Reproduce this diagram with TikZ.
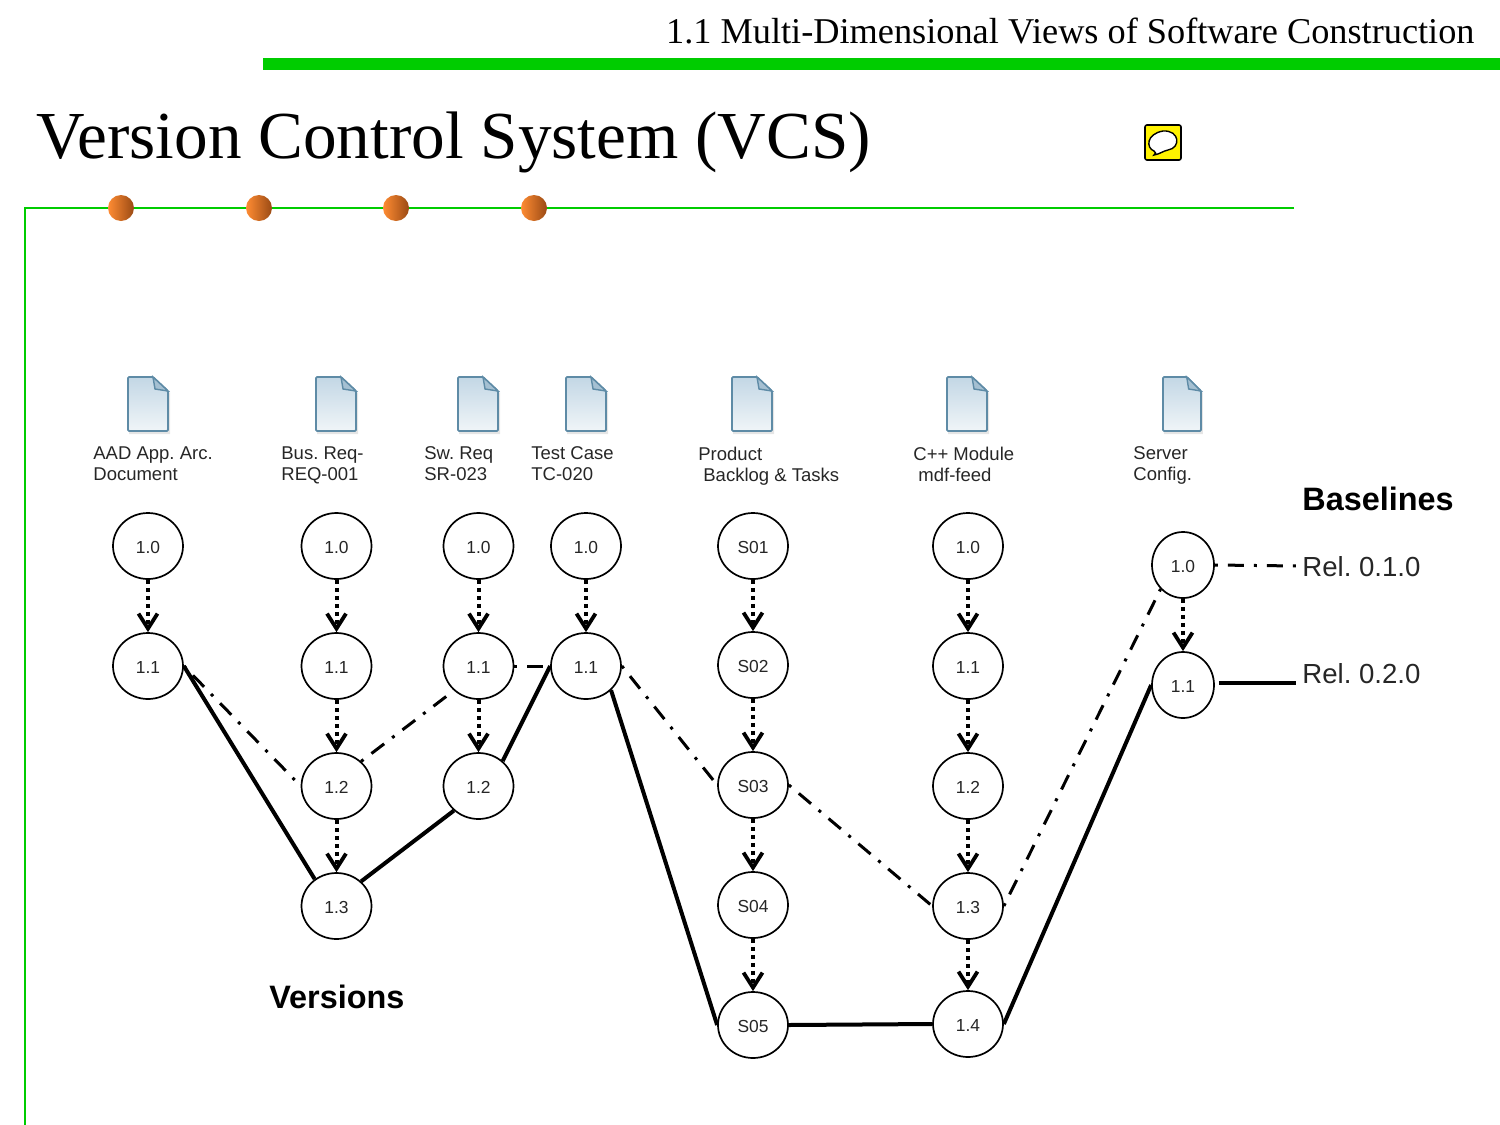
\documentclass[tikz,border=0pt]{standalone}
\usepackage{fontspec}
\setmainfont{Liberation Serif}
\newfontfamily\arialfont{Liberation Sans}
\usetikzlibrary{arrows.meta,shapes.geometric}
\definecolor{vcsgreen}{HTML}{00CC00}
\definecolor{docedge}{HTML}{5E8BA6}
\definecolor{doctop}{HTML}{C3D7E5}
\definecolor{docbot}{HTML}{F0F5F8}
\definecolor{orgL}{HTML}{FF8C33}
\definecolor{orgR}{HTML}{9A4A14}
\tikzset{
  vernode/.style={ellipse,draw=black,line width=.85pt,fill=white,minimum width=35pt,minimum height=33pt,inner sep=0pt,text height=7.2pt,text depth=0pt,font=\arialfont\fontsize{8.7}{10}\selectfont,text=black!85},
  relnode/.style={vernode,minimum width=31pt,minimum height=33pt},
  doclabel/.style={anchor=north west,inner sep=0pt,align=left,font=\frenchspacing\arialfont\fontsize{9.25}{10.5}\selectfont,text=black!85},
  headtext/.style={font=\arialfont\bfseries\fontsize{16.2}{18}\selectfont,inner sep=0pt,anchor=base west},
  reltext/.style={font=\frenchspacing\arialfont\fontsize{13.8}{16}\selectfont,inner sep=2pt,text=black!85},
  evolve/.style={line width=2pt,dash pattern=on 2pt off 2pt,-{Straight Barb[length=7.5pt,width=9.5pt,line width=1.9pt]}},
  baseA/.style={line width=1.5pt,dash pattern=on 1.5pt off 5pt on 8pt off 5pt},
  baseB/.style={line width=2pt},
  bullet/.style={circle,minimum size=13pt,inner sep=0pt,left color=orgL,right color=orgR},
  pics/docicon/.style={code={
    \fill[black!10] (-19,-25) -- (7,-25) -- (22,-11) -- (22,30) -- (-19,30) -- cycle;
    \draw[docedge,line width=.9pt,top color=doctop,bottom color=docbot,rounded corners=.6pt] (-20,-27) -- (5,-27) -- (20,-13) -- (20,27) -- (-20,27) -- cycle;
    \draw[docedge,line width=.7pt,fill=doctop!70!docedge] (5,-27) -- (7,-15) -- (20,-13) -- cycle;
  }}
}
\begin{document}
\begin{tikzpicture}[x=.5pt,y=-.5pt]
\useasboundingbox (0,0) rectangle (1500,1125);
% page furniture
\fill[vcsgreen] (263,58) rectangle (1500,70);
\draw[vcsgreen,line width=1pt] (1294,208) -- (25,208) -- (25,1125);
\node[anchor=base east,inner sep=0pt,font=\fontsize{18.15}{20}\selectfont] (hdr) at (1475,43) {1.1 Multi-Dimensional Views of Software Construction};
\node[anchor=base west,inner sep=0pt,font=\fontsize{33.6}{40}\selectfont] (title) at (36,158) {Version Control System (VCS)};
\foreach \i/\x in {1/121,2/259,3/396,4/534} \node[bullet] (dot\i) at (\x,208) {};
% note icon
\draw[black,line width=.8pt,fill=yellow,rounded corners=1pt] (1145,125) rectangle (1181,160);
\draw[black,line width=.7pt,fill=white] (1154,151) .. controls (1146,148) and (1146,134) .. (1163,131) .. controls (1180,130) and (1181,148) .. (1168,150) .. controls (1163,151) and (1160,154) .. (1154,155) .. controls (1156,154) and (1156,152) .. (1154,151) -- cycle;
% documents
\foreach \x in {148,336,478,586,752,967} \pic at (\x,404) {docicon};
\pic[xscale=.95] at (1182,404) {docicon};
% labels
\node[doclabel] (lab1) at (93,446.5) {AAD App. Arc.\\Document};
\node[doclabel] (lab2) at (281,446.5) {Bus. Req-\\REQ-001};
\node[doclabel] (lab3) at (424,446.5) {Sw. Req\\SR-023};
\node[doclabel] (lab4) at (531,446.5) {Test Case\\TC-020};
\node[doclabel] (lab5) at (698,446.5) {Product\\\hspace*{2.5pt}Backlog \& Tasks};
\node[doclabel] (lab6) at (913,446.5) {C++ Module\\\hspace*{2.5pt}mdf-feed};
\node[doclabel] (lab7) at (1133,446.5) {Server\\Config.};
% version nodes
\node[vernode] (a0) at (148,546) {1.0};
\node[vernode] (a1) at (148,666) {1.1};
\node[vernode] (b0) at (336.5,546) {1.0};
\node[vernode] (b1) at (336.5,666) {1.1};
\node[vernode] (b2) at (336.5,786) {1.2};
\node[vernode] (b3) at (336.5,906) {1.3};
\node[vernode] (c0) at (478.5,546) {1.0};
\node[vernode] (c1) at (478.5,666) {1.1};
\node[vernode] (c2) at (478.5,786) {1.2};
\node[vernode] (d0) at (586,546) {1.0};
\node[vernode] (d1) at (586,666) {1.1};
\node[vernode] (e0) at (753,546) {S01};
\node[vernode] (e1) at (753,665) {S02};
\node[vernode] (e2) at (753,785) {S03};
\node[vernode] (e3) at (753,905) {S04};
\node[vernode] (e4) at (753,1025) {S05};
\node[vernode] (f0) at (968,546) {1.0};
\node[vernode] (f1) at (968,666) {1.1};
\node[vernode] (f2) at (968,786) {1.2};
\node[vernode] (f3) at (968,906) {1.3};
\node[vernode] (f4) at (968,1024) {1.4};
\node[relnode] (g0) at (1183,565) {1.0};
\node[relnode] (g1) at (1183,685) {1.1};
% text
\node[headtext] (vers) at (269,1008) {Versions};
\node[headtext] (base) at (1302,510) {Baselines};
\node[reltext,anchor=west] (rel1) at (1298,567) {Rel. 0.1.0};
\node[reltext,anchor=west] (rel2) at (1298,674) {Rel. 0.2.0};
\coordinate (rel1end) at (1298,566);
\coordinate (rel2end) at (1296,683);
% version arrows
\foreach \p/\q in {a0/a1,b0/b1,b1/b2,b2/b3,c0/c1,c1/c2,d0/d1,e0/e1,e1/e2,e2/e3,e3/e4,f0/f1,f1/f2,f2/f3,f3/f4,g0/g1}
  \draw[evolve] (\p.south) -- (\q.north);
% baseline 0.1.0
\draw[baseA] (a1.east) -- (b2.west);
\draw[baseA] (b2.45) -- (c1.225);
\draw[baseA] (c1.east) -- (d1.west);
\draw[baseA] (d1.east) -- (e2.west);
\draw[baseA] (e2.east) -- (f3.west);
\draw[baseA] (f3.east) -- (g0.227);
\draw[baseA] (g0.east) -- (rel1end);
% baseline 0.2.0
\draw[baseB] (a1.east) -- (b3.129);
\draw[baseB] (b3.45) -- (c2.225);
\draw[baseB] (c2.46) -- (d1.west);
\draw[baseB] (d1.316) -- (e4.west);
\draw[baseB] (e4.east) -- (f4.west);
\draw[baseB] ([xshift=2pt]g1.east |- rel2end) -- (rel2end);
\draw[baseB] (f4.east) -- (g1.west);
\end{tikzpicture}
\end{document}
